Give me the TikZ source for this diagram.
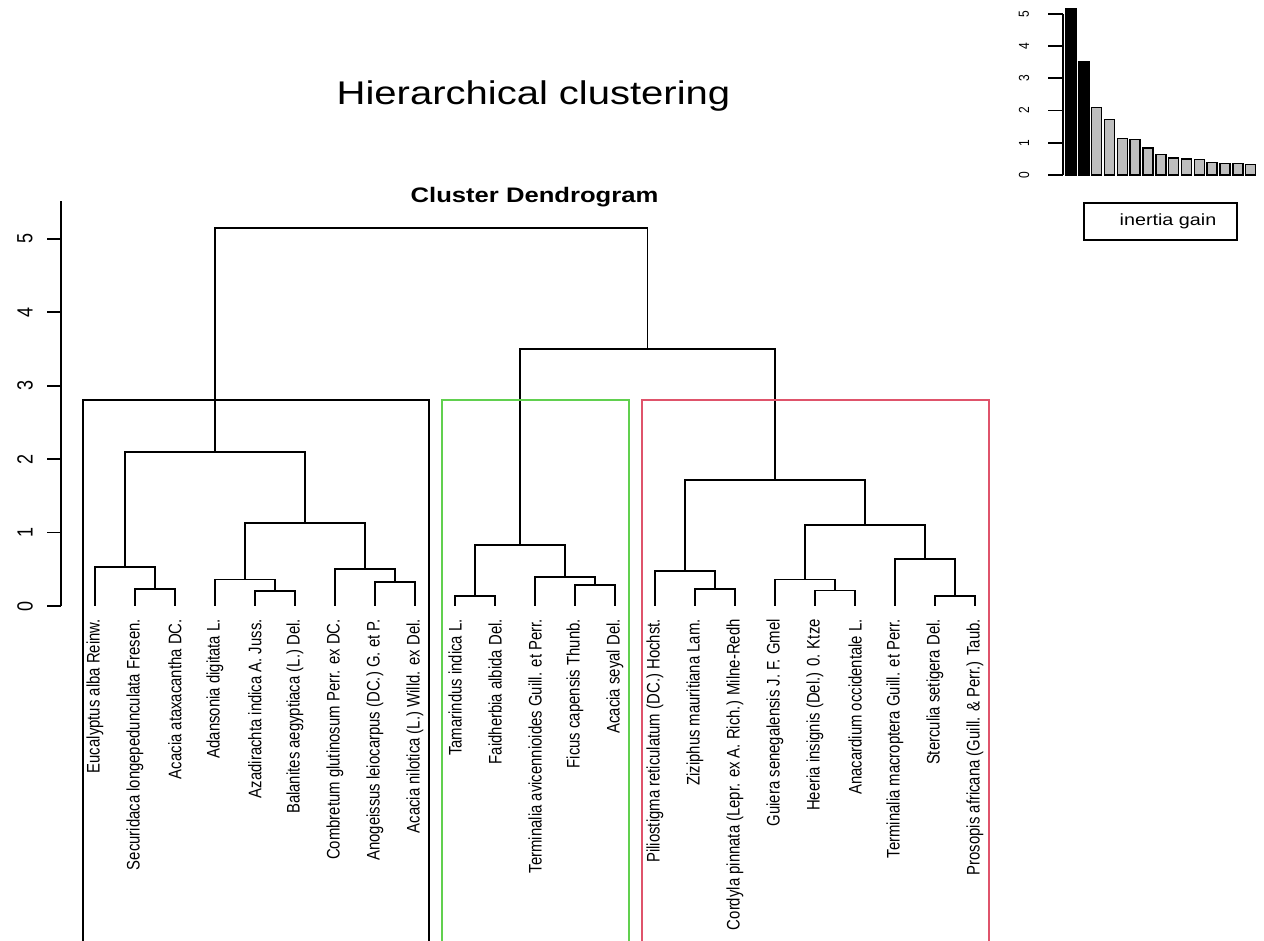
\documentclass[tikz,border=0pt]{standalone}
\usepackage{fontspec}
\setmainfont{Liberation Sans}
\usetikzlibrary{positioning, calc}
\usepackage{xcolor}

\definecolor{grpgreen}{HTML}{61D04F}
\definecolor{grpred}{HTML}{DF536B}
\definecolor{bargray}{HTML}{BEBEBE}

\newcommand{\hstr}[1]{\scalebox{1.22}[1]{#1}}
\newcommand{\vstr}[1]{\scalebox{1}[1.22]{#1}}

\begin{document}
\begin{tikzpicture}[x=1pt, y=1pt,
    branch/.style={line width=1.8pt},
    grpbox/.style={line width=1.8pt},
    leaflbl/.style={rotate=90, anchor=east, inner sep=0pt, font=\fontsize{14.9}{16}\selectfont},
    ticklbl/.style={rotate=90, inner sep=0pt, font=\fontsize{18}{19}\selectfont},
    minilbl/.style={rotate=90, inner sep=0pt, font=\fontsize{12}{13}\selectfont},
    gainbar/.style={line width=1.6pt, draw=black}]
  \useasboundingbox (0,0) rectangle (1264,940);

  \node[anchor=base, font=\fontsize{32.8}{36}\selectfont] (title) at (533.5,835) {\hstr{Hierarchical clustering}};
  \node[anchor=base, font=\bfseries\fontsize{21}{24}\selectfont] (subtitle) at (534.5,737) {\hstr{Cluster Dendrogram}};

  % dendrogram, y in units of height
  \begin{scope}[yshift=334pt, y=73.4pt]
    \draw[branch] (61,0) -- (61,5.52);
    \foreach \v in {0,...,5} {
      \draw[branch] (47,\v) -- (61,\v);
      \node[ticklbl] (h\v) at (25,\v) {\vstr{\v}};
    }

    \foreach \lab [count=\i] in {Eucalyptus alba Reinw., Securidaca longepedunculata Fresen.,
        Acacia ataxacantha DC., Adansonia digitata L., Azadirachta indica A. Juss.,
        Balanites aegyptiaca (L.) Del., Combretum glutinosum Perr. ex DC.,
        Anogeissus leiocarpus (DC.) G. et P., Acacia nilotica (L.) Willd. ex Del.,
        Tamarindus indica L., Faidherbia albida Del., Terminalia avicennioides Guill. et Perr.,
        Ficus capensis Thunb., Acacia seyal Del., Piliostigma reticulatum (DC.) Hochst.,
        Ziziphus mauritiana Lam., Cordyla pinnata (Lepr. ex A. Rich.) Milne-Redh,
        Guiera senegalensis J. F. Gmel, Heeria insignis (Del.) 0. Ktze,
        Anacardium occidentale L., Terminalia macroptera Guill. et Perr.,
        Sterculia setigera Del., Prosopis africana (Guill. \& Perr.) Taub.} {
      \coordinate (t\i) at ({95+40*(\i-1)},0);
      \node[leaflbl] (l\i) at ([yshift=-13pt]t\i) {\vstr{\lab}};
    }

    \coordinate (m23) at (155,.23);
    \coordinate (m56) at (275,.20);
    \coordinate (m89) at (395,.33);
    \coordinate (c1a) at (125,.535);
    \coordinate (c1b) at (245,.36);
    \coordinate (c1c) at (365,.50);
    \coordinate (c1bc) at (305,1.13);
    \coordinate (c1) at (215,2.10);
    \coordinate (m1011) at (475,.14);
    \coordinate (m1314) at (595,.29);
    \coordinate (c2b) at (565,.39);
    \coordinate (c2) at (520,.83);
    \coordinate (m1617) at (715,.23);
    \coordinate (c3a) at (685,.48);
    \coordinate (m1920) at (835,.21);
    \coordinate (c3b) at (805,.36);
    \coordinate (m2223) at (955,.14);
    \coordinate (c3c) at (925,.64);
    \coordinate (c3bc) at (865,1.10);
    \coordinate (c3) at (775,1.72);
    \coordinate (c23) at (647.5,3.50);
    \coordinate (root) at (431.25,5.15);

    \draw[branch] (t2) |- (m23) -| (t3);
    \draw[branch] (t1) |- (c1a) -| (m23);
    \draw[branch] (t5) |- (m56) -| (t6);
    \draw[branch] (t4) |- (c1b) -| (m56);
    \draw[branch] (t8) |- (m89) -| (t9);
    \draw[branch] (t7) |- (c1c) -| (m89);
    \draw[branch] (c1b) |- (c1bc) -| (c1c);
    \draw[branch] (c1a) |- (c1) -| (c1bc);
    \draw[branch] (t10) |- (m1011) -| (t11);
    \draw[branch] (t13) |- (m1314) -| (t14);
    \draw[branch] (t12) |- (c2b) -| (m1314);
    \draw[branch] (m1011) |- (c2) -| (c2b);
    \draw[branch] (t16) |- (m1617) -| (t17);
    \draw[branch] (t15) |- (c3a) -| (m1617);
    \draw[branch] (t19) |- (m1920) -| (t20);
    \draw[branch] (t18) |- (c3b) -| (m1920);
    \draw[branch] (t22) |- (m2223) -| (t23);
    \draw[branch] (t21) |- (c3c) -| (m2223);
    \draw[branch] (c3b) |- (c3bc) -| (c3c);
    \draw[branch] (c3a) |- (c3) -| (c3bc);
    \draw[branch] (c2) |- (c23) -| (c3);
    \draw[branch] (c1) |- (root) -| (c23);

    \draw[grpbox, black] (83,2.806) rectangle (429,-4.7);
    \draw[grpbox, grpgreen] (442,2.806) rectangle (629,-4.7);
    \draw[grpbox, grpred] (642,2.806) rectangle (989,-4.7);
  \end{scope}

  % inertia gain barplot
  \begin{scope}[yshift=765pt, y=32.2pt]
    \draw[branch] (1063,0) -- (1063,5);
    \foreach \v in {0,...,5} {
      \draw[branch] (1048,\v) -- (1063,\v);
      \node[minilbl] (g\v) at (1024,\v) {\vstr{\v}};
    }
    \foreach \h/\c [count=\i] in {5.15/black, 3.50/black, 2.10/bargray, 1.72/bargray,
        1.13/bargray, 1.10/bargray, .83/bargray, .64/bargray, .535/bargray, .50/bargray,
        .48/bargray, .39/bargray, .36/bargray, .36/bargray, .33/bargray}
      \draw[gainbar, fill=\c] ({1066+12.83*(\i-1)},0) rectangle ++(10,\h);
  \end{scope}

  \node[draw, line width=1.4pt, minimum width=153pt, minimum height=37pt, inner sep=0pt] (legbox) at (1160.5,718.5) {};
  \node[font=\fontsize{16.2}{18}\selectfont, inner sep=0pt] (legtxt) at ([xshift=7.5pt]legbox.center) {\hstr{inertia gain}};
\end{tikzpicture}
\end{document}
